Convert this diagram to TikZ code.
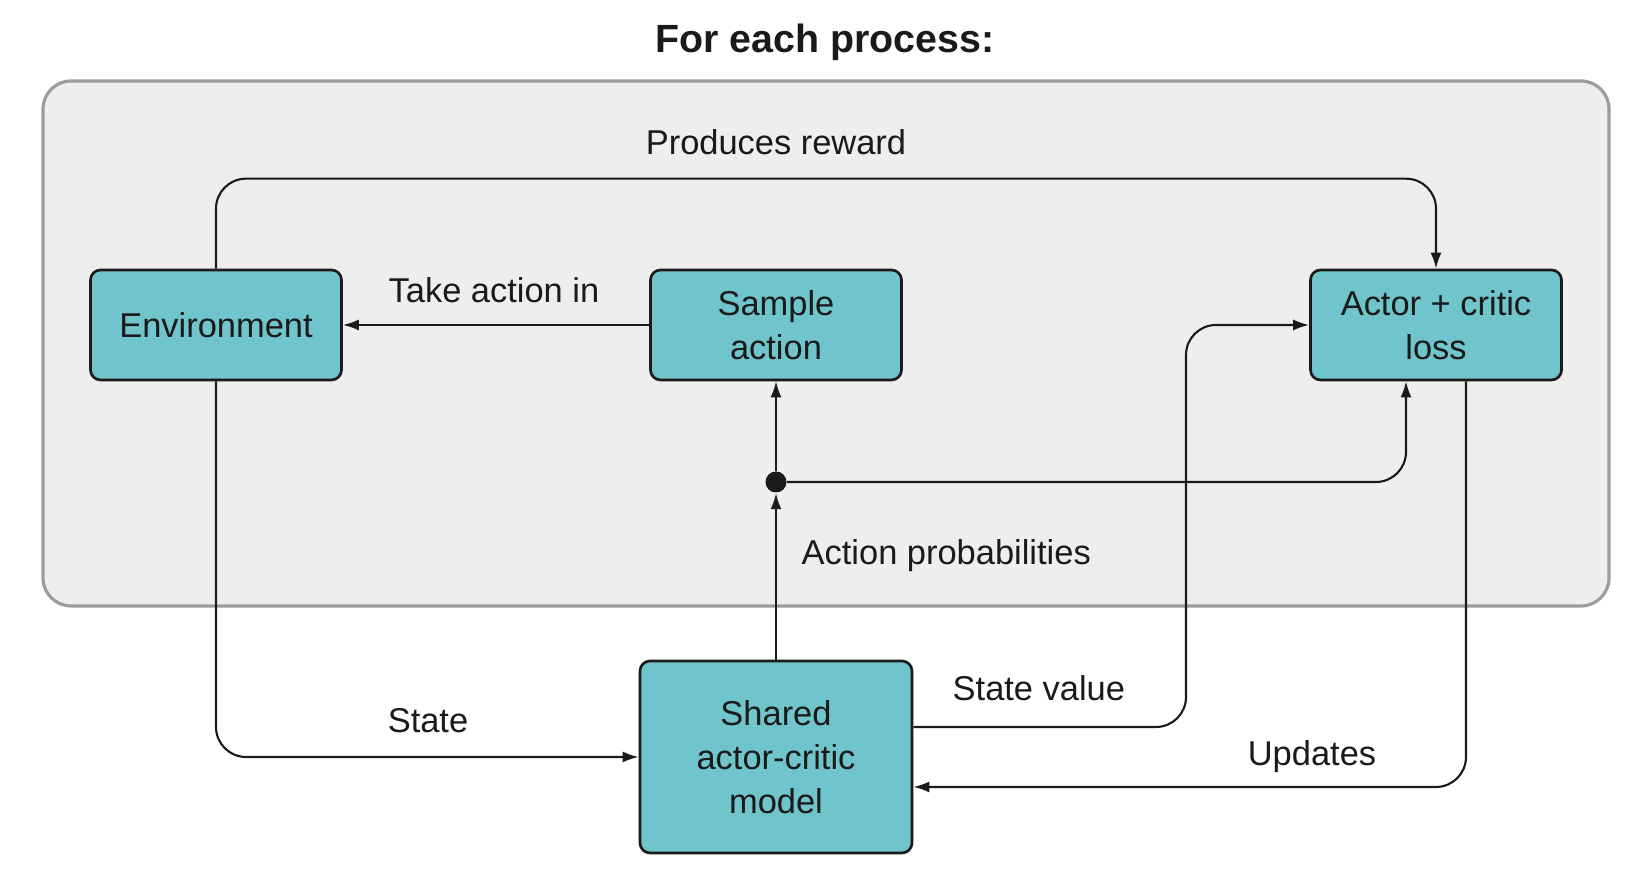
\documentclass[tikz,border=0pt]{standalone}
\usepackage{fontspec}
\setmainfont{Liberation Sans}
\usetikzlibrary{arrows.meta,positioning}
\definecolor{ink}{HTML}{1A1A1A}
\definecolor{boxteal}{HTML}{70C4CB}
\definecolor{panelfill}{HTML}{EEEEEE}
\definecolor{panelline}{HTML}{9C9C9C}
\tikzset{
  panel/.style={rounded corners=2.8mm, draw=panelline, fill=panelfill, line width=.9pt},
  unit/.style={rounded corners=1mm, draw=ink, fill=boxteal, line width=.75pt,
    minimum width=2.51cm, minimum height=1.1cm, inner sep=0pt, align=center,
    font=\fontsize{9.8}{12.5}\selectfont, text=ink},
  lbl/.style={font=\fontsize{9.8}{12}\selectfont, text=ink, anchor=base, inner sep=0pt},
  arr/.style={-{Latex[length=1.6mm,width=1.1mm]}, draw=ink, line width=.6pt, rounded corners=3mm},
  junction/.style={circle, fill=ink, minimum size=2.1mm, inner sep=0pt}
}
\begin{document}
\begin{tikzpicture}[x=1cm,y=1cm]
  \useasboundingbox (0,0) rectangle (16.48,8.90);
  \node[lbl, font=\fontsize{11.2}{13}\selectfont\bfseries] (title) at (8.25,8.374) {For each process:};
  \draw[panel] (0.43,2.84) rectangle (16.09,8.09);

  \node[unit] (env) at (2.16,5.65) {Environment};
  \node[unit] (sample) at (7.76,5.65) {Sample\\action};
  \node[unit] (loss) at (14.36,5.65) {Actor + critic\\loss};
  \node[unit, minimum width=2.72cm, minimum height=1.92cm] (model) at (7.76,1.33) {Shared\\actor-critic\\model};
  \node[junction] (split) at (7.76,4.08) {};
  \coordinate (vbend) at (11.86,3.5);

  \draw[arr] (env.north) -- ++(0,0.9) -| (loss.north);
  \draw[arr] (sample.west) -- (env.east);
  \draw[arr] (model.north) -- (split);
  \draw[arr] (split) -- (sample.south);
  \draw[arr] (split) -| ([xshift=-3mm]loss.south);
  \draw[arr] (env.south) |- (model.west);
  \draw[arr] ([yshift=3mm]model.east) -| (vbend) |- (loss.west);
  \draw[arr] ([xshift=3mm]loss.south) |- ([yshift=-3mm]model.east);

  \node[lbl] (reward) at (7.76,7.355) {Produces reward};
  \node[lbl] (take) at (4.94,5.873) {Take action in};
  \node[lbl, anchor=base west] (probs) at (8.01,3.25) {Action probabilities};
  \node[lbl] (state) at (4.28,1.575) {State};
  \node[lbl, anchor=base west] (value) at (9.52,1.89) {State value};
  \node[lbl] (updates) at (13.12,1.24) {Updates};
\end{tikzpicture}
\end{document}
